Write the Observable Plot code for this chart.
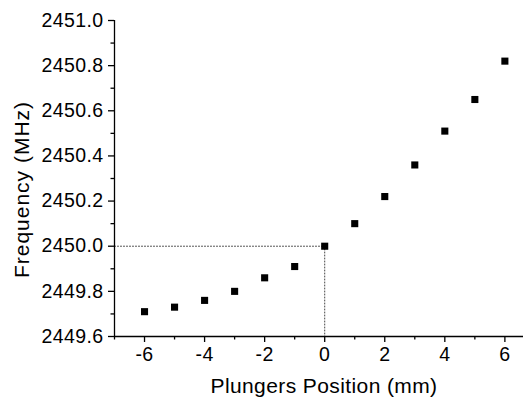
<!DOCTYPE html>
<html>
<head>
<meta charset="utf-8">
<script src="https://cdn.jsdelivr.net/npm/d3@7"></script>
<script src="https://cdn.jsdelivr.net/npm/@observablehq/plot@0.6"></script>
<style>
html, body { margin: 0; padding: 0; background: #fff; }
#chart svg { display: block; }
#chart g[aria-label="y-axis tick label"] text,
#chart g[aria-label="x-axis tick label"] text { letter-spacing: 0.4px; }
#chart g[aria-label="y-axis label"] text { letter-spacing: 1px; }
#chart g[aria-label="x-axis label"] text { letter-spacing: 0.4px; }
</style>
</head>
<body>
<div id="chart"></div>
<script>
const positions = [-6, -5, -4, -3, -2, -1, 0, 1, 2, 3, 4, 5, 6];
const frequencies = [2449.71, 2449.73, 2449.76, 2449.80, 2449.86, 2449.91, 2450.00, 2450.10, 2450.22, 2450.36, 2450.51, 2450.65, 2450.82];
const xMajorTicks = [-6, -4, -2, 0, 2, 4, 6];
const xMinorTicks = [-7, -5, -3, -1, 1, 3, 5];
const yMajorTicks = [2449.6, 2449.8, 2450.0, 2450.2, 2450.4, 2450.6, 2450.8, 2451.0];
const yMinorTicks = [2449.7, 2449.9, 2450.1, 2450.3, 2450.5, 2450.7, 2450.9];
const refX = 0;
const refY = 2450.0;
const xLabel = "Plungers Position (mm)";
const yLabel = "Frequency (MHz)";

const data = positions.map((p, i) => ({x: p, y: frequencies[i]}));
const xMin = -7, xMax = 6.62, yMin = 2449.6, yMax = 2451.0;
const guide = [{x: xMin, y: refY}, {x: refX, y: refY}, {x: refX, y: yMin}];

const chart = Plot.plot({
  width: 523,
  height: 402,
  marginLeft: 114,
  marginRight: 0,
  marginTop: 20,
  marginBottom: 66,
  style: {fontFamily: "'Liberation Sans', Arial, sans-serif", color: "#000", background: "#fff"},
  x: {domain: [xMin, xMax]},
  y: {domain: [yMin, yMax]},
  marks: [
    Plot.line(guide, {x: "x", y: "y", stroke: "#444", strokeWidth: 1, strokeDasharray: "1,2"}),
    Plot.ruleX([xMin], {stroke: "#000", strokeWidth: 1.3}),
    Plot.ruleY([yMin], {stroke: "#000", strokeWidth: 1.3}),
    Plot.axisX({ticks: xMajorTicks, tickSize: 6, tickPadding: 5, fontSize: 19.5, label: null, tickFormat: d => String(d), strokeWidth: 1.3}),
    Plot.axisX({ticks: xMinorTicks, tickSize: 3.5, text: null, label: null, strokeWidth: 1.3}),
    Plot.axisY({ticks: yMajorTicks, tickSize: 6, tickPadding: 5, fontSize: 19.5, label: null, tickFormat: d => d.toFixed(1), strokeWidth: 1.3}),
    Plot.axisY({ticks: yMinorTicks, tickSize: 3.5, text: null, label: null, strokeWidth: 1.3}),
    Plot.axisY({ticks: [], tickSize: 0, label: yLabel, labelAnchor: "center", labelArrow: "none", labelOffset: 100, fontSize: 21}),
    Plot.axisX({ticks: [], tickSize: 0, label: xLabel, labelAnchor: "center", labelArrow: "none", labelOffset: 58, fontSize: 21}),
    Plot.dot(data, {x: "x", y: "y", symbol: "square", r: 4, fill: "#000", stroke: "none"})
  ]
});
function shift(sel, dx, dy) {
  const g = d3.select(chart).select(sel);
  if (!g.empty()) {
    const t = g.attr("transform") || "";
    g.attr("transform", `translate(${dx},${dy}) ${t}`);
  }
}
shift('g[aria-label="y-axis label"]', 0, 11);
shift('g[aria-label="x-axis label"]', 5, -2);
document.getElementById("chart").appendChild(chart);
</script>
</body>
</html>
